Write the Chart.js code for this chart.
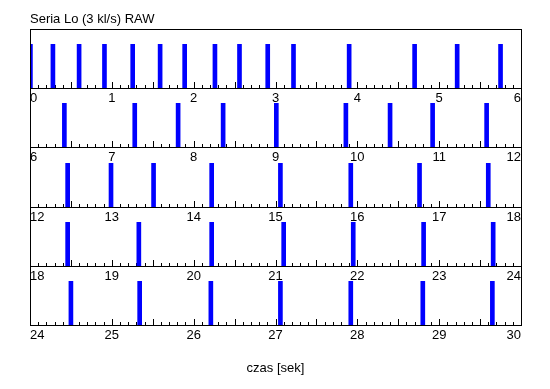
<!DOCTYPE html>
<html>
<head>
<meta charset="utf-8">
<script src="https://cdn.jsdelivr.net/npm/chart.js@4"></script>
<style>
body { margin: 0; background: #fff; }
#wrap { position: relative; width: 550px; height: 389px; overflow: hidden; background: #fff; }
#wrap canvas { position: absolute; left: 0; }
</style>
</head>
<body>
<div id="wrap"></div>
<script>
var chartTitle = 'Seria Lo (3 kl/s) RAW';
var axisTitle = 'czas [sek]';
var secondsPerRow = 6;
var rowCount = 5;

// czasy uderzen [s]
var hitTimes = [
    0.005, 0.28, 0.60, 0.91, 1.255, 1.59, 1.89, 2.26, 2.56, 2.905, 3.22, 3.90, 4.70, 5.22, 5.75,
    6.42, 7.28, 7.81, 8.36, 9.01, 9.86, 10.40, 10.92, 11.58,
    12.46, 12.99, 13.51, 14.22, 15.06, 15.92, 16.76, 17.60,
    18.46, 19.33, 20.22, 21.10, 21.95, 22.81, 23.66,
    24.50, 25.34, 26.21, 27.06, 27.92, 28.80, 29.65
];
var hitLevel = 0.74;

var fontFamily = "'Liberation Sans', Arial, sans-serif";

var framePlugin = {
    id: 'frame',
    beforeDatasetsDraw: function(chart) {
        var ctx = chart.ctx;
        var x = chart.scales.x;
        var bottom = chart.chartArea.bottom;
        ctx.save();
        ctx.strokeStyle = '#000';
        ctx.lineWidth = 1;
        ctx.beginPath();
        for (var k = 0; k <= secondsPerRow * 10; k++) {
            var px = Math.round(x.getPixelForValue(x.min + k / 10)) + 0.5;
            var len = k % 5 === 0 ? 6 : 3;
            ctx.moveTo(px, bottom);
            ctx.lineTo(px, bottom - len);
        }
        ctx.stroke();
        ctx.restore();
    },
    afterDatasetsDraw: function(chart, args, opts) {
        var ctx = chart.ctx;
        var a = chart.chartArea;
        var l = Math.round(a.left) + 0.5;
        var r = Math.round(a.right) + 0.5;
        ctx.save();
        ctx.strokeStyle = '#000';
        ctx.lineWidth = 1;
        ctx.beginPath();
        ctx.moveTo(l, a.top);
        ctx.lineTo(l, a.bottom);
        ctx.moveTo(r, a.top);
        ctx.lineTo(r, a.bottom);
        if (opts.top) {
            ctx.moveTo(l, Math.round(a.top) + 0.5);
            ctx.lineTo(r, Math.round(a.top) + 0.5);
        }
        ctx.stroke();
        ctx.restore();
    }
};

function makeRow(i) {
    var first = i === 0;
    var last = i === rowCount - 1;
    var axisY = Math.round(88 + i * 59.25);
    var padTop = first ? 0 : 10;
    var titleTop = first ? 29 : 0;
    var bottomTitle = last ? 30 : 0;
    var height = padTop + titleTop + 59 + 25 + bottomTitle;

    var canvas = document.createElement('canvas');
    canvas.width = 550;
    canvas.height = height;
    canvas.style.top = (axisY - 59 - padTop - titleTop) + 'px';
    document.getElementById('wrap').appendChild(canvas);

    var start = i * secondsPerRow;
    var rowData = hitTimes.filter(function(t) {
        return t >= start && t < start + secondsPerRow;
    }).map(function(t) {
        return { x: t, y: hitLevel };
    });

    var titles = [];
    if (first) {
        titles.push({
            display: true, text: chartTitle, align: 'start', position: 'top',
            color: '#000', font: { family: fontFamily, size: 13, weight: 'normal' },
            padding: { top: 12, bottom: 1.4 }
        });
    } else if (last) {
        titles.push({
            display: true, text: axisTitle, align: 'center', position: 'bottom',
            color: '#000', font: { family: fontFamily, size: 13, weight: 'normal' },
            padding: { top: 10.2, bottom: 4.2 }
        });
    }

    return new Chart(canvas.getContext('2d'), {
        type: 'bar',
        data: {
            datasets: [{
                data: rowData,
                backgroundColor: '#0000ff',
                borderWidth: 0,
                barThickness: 4
            }]
        },
        options: {
            responsive: false,
            animation: false,
            devicePixelRatio: 1,
            layout: { padding: { left: 30, right: 29, top: padTop, bottom: 0 } },
            scales: {
                x: {
                    type: 'linear',
                    min: start,
                    max: start + secondsPerRow,
                    offset: false,
                    grid: { display: false, drawTicks: false },
                    border: { display: true, color: '#000', width: 1 },
                    ticks: {
                        stepSize: 1,
                        align: 'inner',
                        padding: 3,
                        maxRotation: 0,
                        color: '#000',
                        font: { family: fontFamily, size: 13 }
                    },
                    afterFit: function(scale) { scale.height = 25; }
                },
                y: { display: false, min: 0, max: 1 }
            },
            plugins: {
                legend: { display: false },
                tooltip: { enabled: false },
                title: titles.length ? titles[0] : { display: false },
                frame: { top: first }
            }
        },
        plugins: [framePlugin]
    });
}

for (var i = 0; i < rowCount; i++) {
    makeRow(i);
}
</script>
</body>
</html>
